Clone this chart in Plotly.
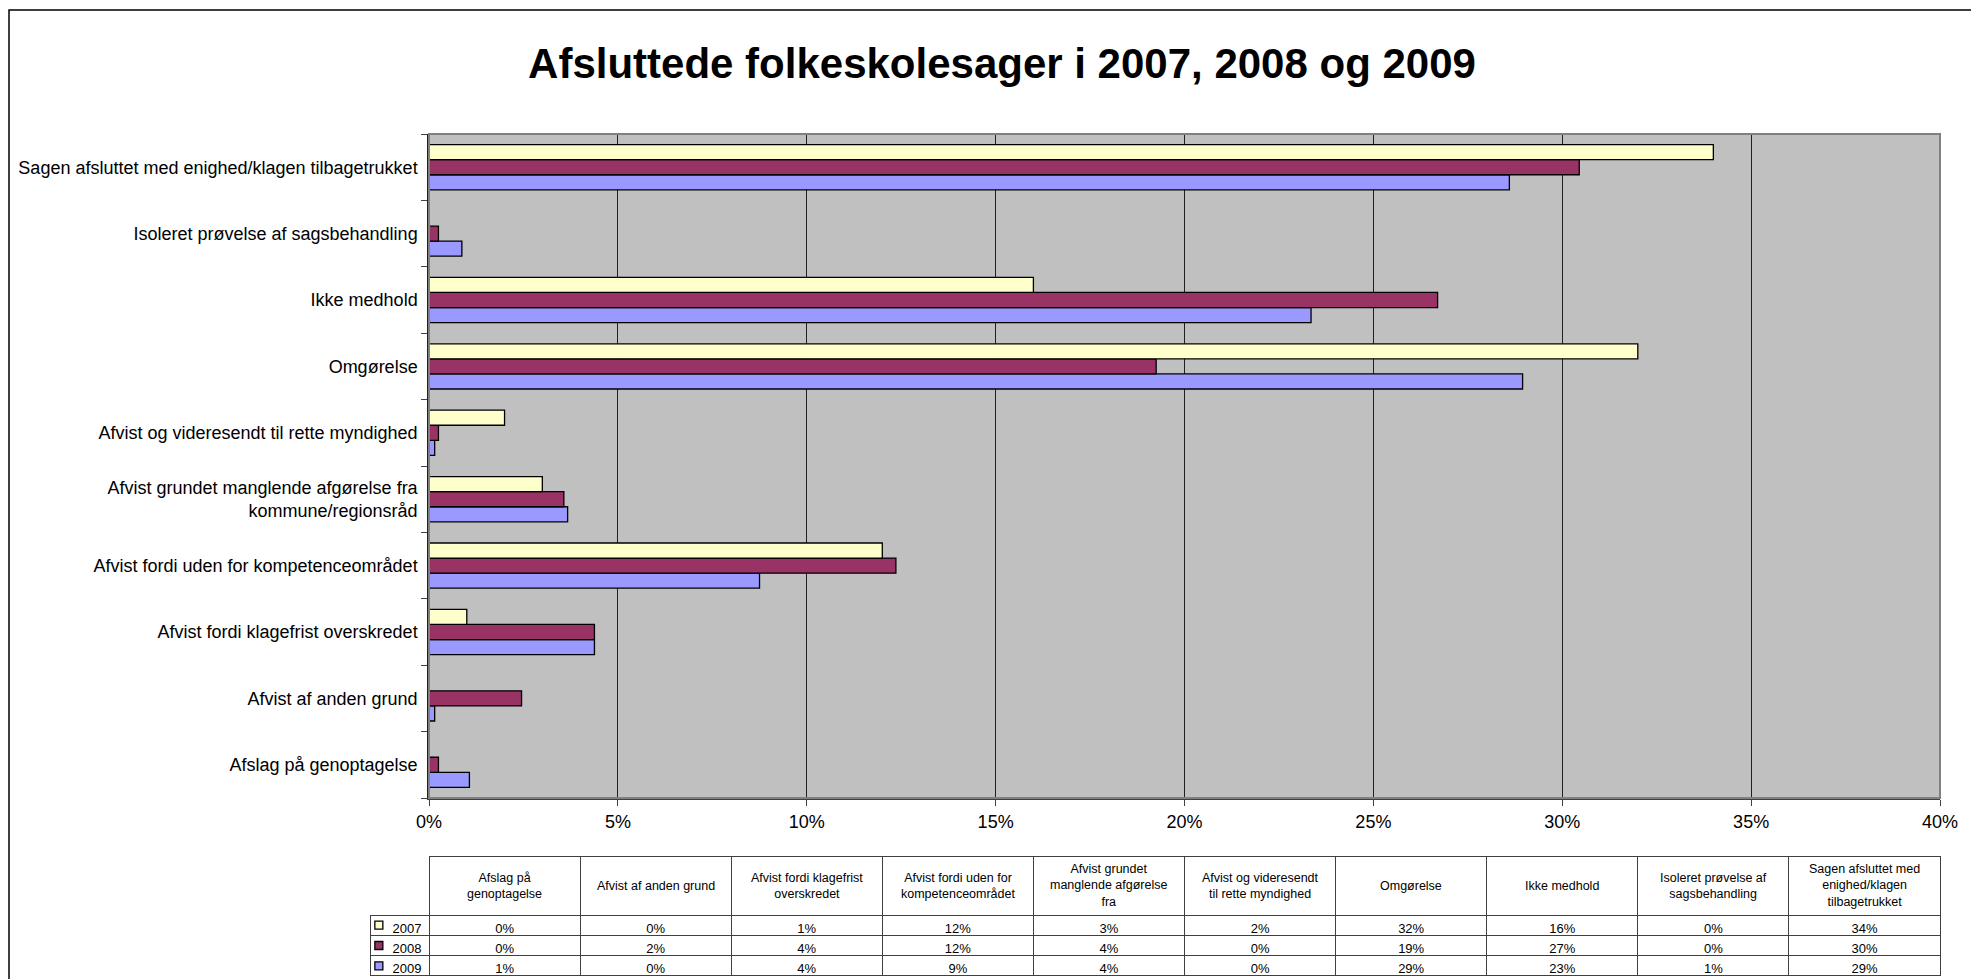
import plotly.graph_objects as go

# categories, bottom to top on the chart (= left to right in the table)
categories = [
    "Afslag på genoptagelse",
    "Afvist af anden grund",
    "Afvist fordi klagefrist overskredet",
    "Afvist fordi uden for kompetenceområdet",
    "Afvist grundet manglende afgørelse fra<br>kommune/regionsråd",
    "Afvist og videresendt til rette myndighed",
    "Omgørelse",
    "Ikke medhold",
    "Isoleret prøvelse af sagsbehandling",
    "Sagen afsluttet med enighed/klagen tilbagetrukket",
]
table_headers = [
    "Afslag på<br>genoptagelse",
    "Afvist af anden grund",
    "Afvist fordi klagefrist<br>overskredet",
    "Afvist fordi uden for<br>kompetenceområdet",
    "Afvist grundet<br>manglende afgørelse<br>fra",
    "Afvist og videresendt<br>til rette myndighed",
    "Omgørelse",
    "Ikke medhold",
    "Isoleret prøvelse af<br>sagsbehandling",
    "Sagen afsluttet med<br>enighed/klagen<br>tilbagetrukket",
]
years = ["2007", "2008", "2009"]
v2007 = [0.0, 0.0, 1.0, 12.0, 3.0, 2.0, 32.0, 16.0, 0.0, 34.0]
v2008 = [0.25, 2.45, 4.38, 12.36, 3.57, 0.25, 19.25, 26.7, 0.25, 30.45]
v2009 = [1.07, 0.15, 4.38, 8.75, 3.67, 0.15, 28.95, 23.35, 0.87, 28.6]
colors = {"2007": "#FFFFCC", "2008": "#993366", "2009": "#9999FF"}
series = {"2007": v2007, "2008": v2008, "2009": v2009}

FONT = "Liberation Sans, Arial, sans-serif"
OFF = 8  # page body margin
W, H = 1979 - OFF, 979 - OFF
ML, MR, MT, MB = 350, 31, 126, 0
PW, PH = W - ML - MR, H - MT - MB

# table geometry (page pixels)
TAB_L, PLOT_L, PLOT_R = 370, 429, 1940
HEAD_T, HEAD_B, TAB_B = 856, 915, 976
COL_W = (PLOT_R - PLOT_L) / len(categories)


def px_x(x):
    return (x - OFF - ML) / PW


def px_y(y):
    return (H - MB - (y - OFF)) / PH


fig = go.Figure()

# horizontal grouped bars, 2009 first so 2007 ends on top of each group
for yr in ["2009", "2008", "2007"]:
    fig.add_trace(go.Bar(
        y=categories, x=series[yr], orientation="h", name=yr,
        marker=dict(color=colors[yr], line=dict(color="black", width=1.3)),
        showlegend=False, hoverinfo="x+y",
    ))

# data table under the chart
cell_cols = [["\u00a0\u00a0\u00a0\u00a0" + y for y in years]]
for i in range(len(categories)):
    cell_cols.append([f"{round(series[y][i])}%" for y in years])

fig.add_trace(go.Table(
    domain=dict(x=[px_x(TAB_L), px_x(PLOT_R)], y=[px_y(TAB_B), px_y(HEAD_T)]),
    columnwidth=[PLOT_L - TAB_L] + [COL_W] * 10,
    header=dict(
        values=[""] * 11,
        fill_color="white",
        line=dict(color=["rgba(0,0,0,0)"] + ["#404040"] * 10, width=1),
        font=dict(family=FONT, size=12, color="black"),
        height=HEAD_B - HEAD_T,
    ),
    cells=dict(
        values=cell_cols,
        fill_color=["rgba(0,0,0,0)"] + ["white"] * 10,
        line=dict(color="#404040", width=1),
        font=dict(family=FONT, size=13, color="black"),
        align=["left"] + ["center"] * 10, height=20,
    ),
))

# legend keys inside the table's first column
fig.add_trace(go.Scatter(
    x=[0, 0, 0], y=years, mode="markers", xaxis="x2", yaxis="y2",
    marker=dict(symbol="square", size=8, color=[colors[y] for y in years],
                line=dict(color="black", width=1.3)),
    showlegend=False, hoverinfo="skip",
))

# header texts, centred in each column
header_notes = []
for i, txt in enumerate(table_headers):
    header_notes.append(dict(
        text=txt, xref="paper", yref="paper",
        x=px_x(PLOT_L + (i + 0.5) * COL_W), y=px_y((HEAD_T + HEAD_B) / 2),
        xanchor="center", yanchor="middle", align="center", showarrow=False,
        font=dict(family=FONT, size=12.5, color="black"),
    ))

fig.update_layout(
    width=W, height=H,
    margin=dict(l=ML, r=MR, t=MT, b=MB),
    paper_bgcolor="white",
    plot_bgcolor="white",
    font=dict(family=FONT, size=15, color="black"),
    title=dict(text="<b>Afsluttede folkeskolesager i 2007, 2008 og 2009</b>",
               x=(1002 - OFF) / W, xref="container", xanchor="center",
               y=1 - (63 - OFF) / H, yanchor="middle",
               font=dict(family=FONT, size=42, color="black")),
    barmode="group", bargap=0.32, bargroupgap=0,
    xaxis=dict(domain=[px_x(PLOT_L), px_x(PLOT_R)], range=[0, 40], dtick=5, ticksuffix="%",
               showgrid=True, gridcolor="#202020", gridwidth=1,
               showline=True, linecolor="#404040", linewidth=2,
               ticks="outside", ticklen=6, tickcolor="#404040",
               zeroline=False, tickfont=dict(size=18)),
    yaxis=dict(domain=[px_y(798), px_y(134)], showgrid=False,
               showline=True, linecolor="#202020", linewidth=1.5,
               ticks="outside", ticklen=6, tickcolor="#404040",
               tickson="boundaries", ticklabelstandoff=6,
               tickfont=dict(size=18)),
    xaxis2=dict(domain=[px_x(TAB_L), px_x(PLOT_L)], range=[-0.15, 0.85],
                visible=False, fixedrange=True, anchor="y2"),
    yaxis2=dict(domain=[px_y(TAB_B), px_y(HEAD_B)], range=[-0.5, 2.5],
                type="category", categoryorder="array",
                categoryarray=["2009", "2008", "2007"],
                visible=False, fixedrange=True, anchor="x2"),
    annotations=header_notes,
    shapes=[
        # gray plot background, under the grid
        dict(type="rect", xref="x domain", yref="y domain", x0=0, x1=1, y0=0, y1=1,
             fillcolor="#C0C0C0", line=dict(width=0), layer="below"),
        # gray frame round the plot area
        dict(type="rect", xref="x domain", yref="y domain", x0=0, x1=1, y0=0, y1=1,
             line=dict(color="#808080", width=2), layer="above"),
        # outer chart frame
        dict(type="rect", xref="paper", yref="paper",
             x0=px_x(9), x1=px_x(1979 + 20), y0=px_y(979 + 20), y1=px_y(10),
             line=dict(color="black", width=1.5)),
    ],
)

fig.write_html("out.html")
